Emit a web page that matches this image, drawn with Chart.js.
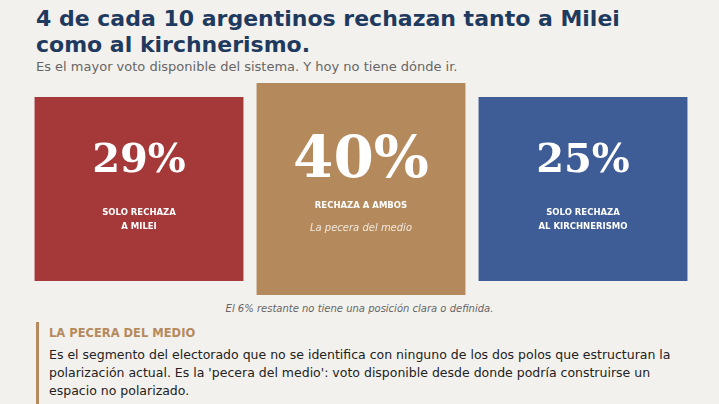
<!DOCTYPE html>
<html><head><meta charset="utf-8">
<script src="https://cdn.jsdelivr.net/npm/chart.js@4/dist/chart.umd.min.js"></script>
<style>
body{margin:0;background:#f3f1ed;font-family:"DejaVu Sans",sans-serif;width:719px;height:404px;overflow:hidden;position:relative}
h1{position:absolute;left:36px;top:6px;margin:0;font-size:22px;line-height:26px;color:#1f3a5f;font-weight:bold}
.sub{position:absolute;left:36px;top:59px;font-size:13px;color:#666}
#wrap{position:absolute;left:28px;top:83px;width:666px;height:212px}
.note{position:absolute;left:0;width:719px;top:303px;text-align:center;font-size:10px;font-style:italic;color:#666}
.box{position:absolute;left:36px;top:322px;width:683px;height:90px;border-left:3px solid #b58a5c;padding-left:10px}
.box h3{margin:4px 0 6px;font-size:11.5px;color:#b58a5c;font-weight:bold}
.box p{margin:0;font-size:12.5px;line-height:18px;color:#222;width:650px}
</style></head><body>
<h1>4 de cada 10 argentinos rechazan tanto a Milei<br>como al kirchnerismo.</h1>
<div class="sub">Es el mayor voto disponible del sistema. Y hoy no tiene dónde ir.</div>
<div id="wrap"><canvas id="c"></canvas></div>
<div class="note">El 6% restante no tiene una posición clara o definida.</div>
<div class="box"><h3>LA PECERA DEL MEDIO</h3>
<p>Es el segmento del electorado que no se identifica con ninguno de los dos polos que estructuran la polarización actual. Es la 'pecera del medio': voto disponible desde donde podría construirse un espacio no polarizado.</p></div>
<script>
var categories = ["Solo rechaza a Milei", "Rechaza a ambos", "Solo rechaza al kirchnerismo"];
var shares = [29, 40, 25];
var labelLines = [["SOLO RECHAZA", "A MILEI"], ["RECHAZA A AMBOS"], ["SOLO RECHAZA", "AL KIRCHNERISMO"]];
var taglines = ["", "La pecera del medio", ""];
var boxBottom = [14, 0, 14];
var boxTop = [198, 212, 198];
var colors = ["#a5393a", "#b48a5c", "#3e5c96"];

var textPlugin = {
  id: 'boxText',
  afterDatasetsDraw: function(chart) {
    var ctx = chart.ctx;
    chart.getDatasetMeta(0).data.forEach(function(bar, i) {
      var big = i === 1;
      ctx.save();
      ctx.fillStyle = '#fff';
      ctx.textAlign = 'center';
      ctx.textBaseline = 'middle';
      ctx.font = 'bold ' + (big ? 58 : 40) + 'px "DejaVu Serif", serif';
      ctx.fillText(shares[i] + '%', bar.x, 79);
      ctx.font = 'bold 8.5px "DejaVu Sans", sans-serif';
      var y = big ? 123 : 130;
      labelLines[i].forEach(function(l, k) { ctx.fillText(l, bar.x, y + k * 14); });
      if (taglines[i]) {
        ctx.font = 'italic 10px "DejaVu Sans", sans-serif';
        ctx.fillStyle = 'rgba(255,255,255,0.8)';
        ctx.fillText(taglines[i], bar.x, 145);
      }
      ctx.restore();
    });
  }
};

new Chart('c', {
  type: 'bar',
  data: {
    labels: categories,
    datasets: [{
      data: boxBottom.map(function(b, i) { return [b, boxTop[i]]; }),
      backgroundColor: colors,
      barPercentage: 0.941,
      categoryPercentage: 1
    }]
  },
  options: {
    responsive: true, maintainAspectRatio: false, animation: false,
    layout: { padding: 0 },
    plugins: { legend: { display: false }, tooltip: { enabled: false } },
    scales: {
      x: { display: false, offset: true },
      y: { display: false, min: 0, max: 212 }
    }
  },
  plugins: [textPlugin]
});
</script>
</body></html>
